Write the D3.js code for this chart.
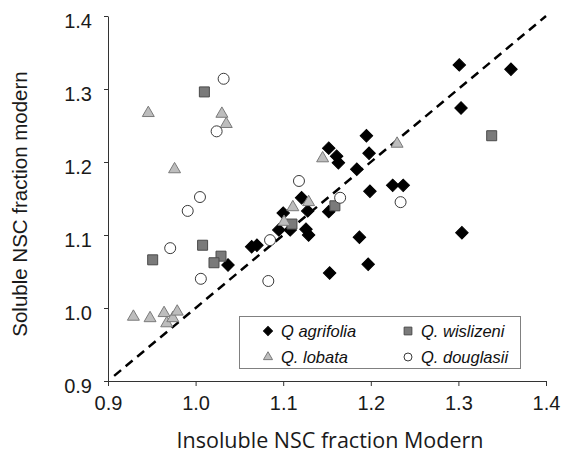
<!DOCTYPE html>
<html>
<head>
<meta charset="utf-8">
<script src="https://cdn.jsdelivr.net/npm/d3@7"></script>
<style>
  body { margin: 0; background: #fff; }
  svg { display: block; }
</style>
</head>
<body>
<div id="chart"></div>
<script>
// insoluble (x) and soluble (y) fraction modern, per species
const agrifoliaX = [1.301, 1.360, 1.303, 1.304, 1.187, 1.197, 1.153, 1.195, 1.152, 1.161, 1.163, 1.198, 1.184, 1.199,
    1.225, 1.237, 1.121, 1.128, 1.152, 1.100, 1.108, 1.095, 1.126, 1.129, 1.064, 1.070, 1.037];
const agrifoliaY = [1.333, 1.327, 1.274, 1.103, 1.097, 1.060, 1.048, 1.236, 1.219, 1.208, 1.199, 1.212, 1.190, 1.160,
    1.168, 1.168, 1.151, 1.133, 1.132, 1.130, 1.107, 1.107, 1.108, 1.100, 1.084, 1.086, 1.059];

const wislizeniX = [1.010, 1.338, 0.951, 1.008, 1.029, 1.021, 1.159, 1.110];
const wislizeniY = [1.296, 1.236, 1.066, 1.086, 1.071, 1.062, 1.140, 1.115];

const lobataX = [0.946, 0.976, 1.030, 1.035, 0.929, 0.948, 0.964, 0.967, 0.974, 0.979, 1.111, 1.129, 1.101, 1.145, 1.230];
const lobataY = [1.267, 1.190, 1.266, 1.252, 0.988, 0.986, 0.993, 0.979, 0.986, 0.995, 1.138, 1.145, 1.118, 1.205, 1.225];

const douglasiiX = [1.032, 1.024, 1.005, 0.991, 0.971, 1.006, 1.085, 1.083, 1.118, 1.165, 1.234];
const douglasiiY = [1.314, 1.242, 1.152, 1.133, 1.082, 1.040, 1.093, 1.037, 1.174, 1.151, 1.145];

const tickValues = [0.9, 1.0, 1.1, 1.2, 1.3, 1.4];
const oneToOne = [0.907, 1.4];

const species = [
    { name: "Q agrifolia", xs: agrifoliaX, ys: agrifoliaY, shape: "diamond", fill: "#000", stroke: "#000" },
    { name: "Q. wislizeni", xs: wislizeniX, ys: wislizeniY, shape: "square", fill: "#7a7a7a", stroke: "#4a4a4a" },
    { name: "Q. lobata", xs: lobataX, ys: lobataY, shape: "triangle", fill: "#bdbdbd", stroke: "#7a7a7a" },
    { name: "Q. douglasii", xs: douglasiiX, ys: douglasiiY, shape: "circle", fill: "#fff", stroke: "#3a3a3a" }
];

const width = 562, height = 454;
const margin = { top: 16, right: 16, bottom: 73, left: 108 };

const svg = d3.select("#chart").append("svg")
    .attr("width", width)
    .attr("height", height);

const x = d3.scaleLinear().domain([0.9, 1.4]).range([margin.left, width - margin.right]);
const y = d3.scaleLinear().domain([0.9, 1.4]).range([height - margin.bottom, margin.top]);

function symbolPath(shape, big) {
    if (shape === "diamond") return d3.symbol(d3.symbolSquare, big ? 78 : 40)();
    if (shape === "square") return d3.symbol(d3.symbolSquare, big ? 100 : 60)();
    if (shape === "triangle") return d3.symbol(d3.symbolTriangle, big ? 62 : 36)();
    return d3.symbol(d3.symbolCircle, big ? 95 : 50)();
}

// axes
svg.append("g")
    .attr("transform", `translate(0,${y(0.9)})`)
    .call(d3.axisBottom(x).tickValues(tickValues).tickFormat(d3.format(".1f")).tickSize(5).tickSizeOuter(0))
    .call(g => g.selectAll("line, path").attr("stroke", "#333"))
    .call(g => g.selectAll("text").attr("font-family", "Liberation Sans, Arial, sans-serif")
        .attr("font-size", 20).attr("fill", "#1a1a1a").attr("dy", "1.05em"));

svg.append("g")
    .attr("transform", `translate(${x(0.9)},0)`)
    .call(d3.axisLeft(y).tickValues(tickValues).tickFormat(d3.format(".1f")).tickSize(4).tickSizeOuter(0))
    .call(g => g.selectAll("line, path").attr("stroke", "#333"))
    .call(g => g.selectAll("text").attr("font-family", "Liberation Sans, Arial, sans-serif")
        .attr("font-size", 20).attr("fill", "#1a1a1a").attr("x", -16).attr("dy", "0.55em"));

// 1:1 line
svg.append("line")
    .attr("x1", x(oneToOne[0])).attr("y1", y(oneToOne[0]))
    .attr("x2", x(oneToOne[1])).attr("y2", y(oneToOne[1]))
    .attr("stroke", "#000")
    .attr("stroke-width", 2.5)
    .attr("stroke-dasharray", "9,6");

// points
species.forEach(s => {
    const pts = s.xs.map((v, i) => [v, s.ys[i]]);
    svg.append("g").selectAll("path")
        .data(pts)
        .enter()
        .append("path")
        .attr("d", symbolPath(s.shape, true))
        .attr("transform", d => `translate(${x(d[0])},${y(d[1])})` + (s.shape === "diamond" ? " rotate(45)" : ""))
        .attr("fill", s.fill)
        .attr("stroke", s.stroke)
        .attr("stroke-width", 1);
});

// legend
const legend = svg.append("g");
legend.append("rect")
    .attr("x", 239.5).attr("y", 316.5)
    .attr("width", 281).attr("height", 52)
    .attr("fill", "#fff")
    .attr("stroke", "#808080");

const legendPos = [[268, 331], [408, 331], [268, 357], [408, 357]];
species.forEach((s, i) => {
    const [lx, ly] = legendPos[i];
    legend.append("path")
        .attr("d", symbolPath(s.shape, false))
        .attr("transform", `translate(${lx},${ly})` + (s.shape === "diamond" ? " rotate(45)" : ""))
        .attr("fill", s.fill)
        .attr("stroke", s.stroke);
    legend.append("text")
        .attr("x", lx + 13)
        .attr("y", ly + 6)
        .attr("font-family", "Liberation Sans, Arial, sans-serif")
        .attr("font-style", "italic")
        .attr("font-size", 16.5)
        .attr("fill", "#111")
        .text(s.name);
});

// axis titles
svg.append("text")
    .attr("x", 330)
    .attr("y", 448)
    .attr("text-anchor", "middle")
    .attr("font-family", "Open Sans, sans-serif")
    .attr("font-size", 21.5)
    .attr("fill", "#1a1a1a")
    .text("Insoluble NSC fraction Modern");

svg.append("text")
    .attr("transform", `translate(27,204) rotate(-90)`)
    .attr("text-anchor", "middle")
    .attr("font-family", "Liberation Sans, Arial, sans-serif")
    .attr("font-size", 20.5)
    .attr("fill", "#1a1a1a")
    .text("Soluble NSC fraction modern");
</script>
</body>
</html>
